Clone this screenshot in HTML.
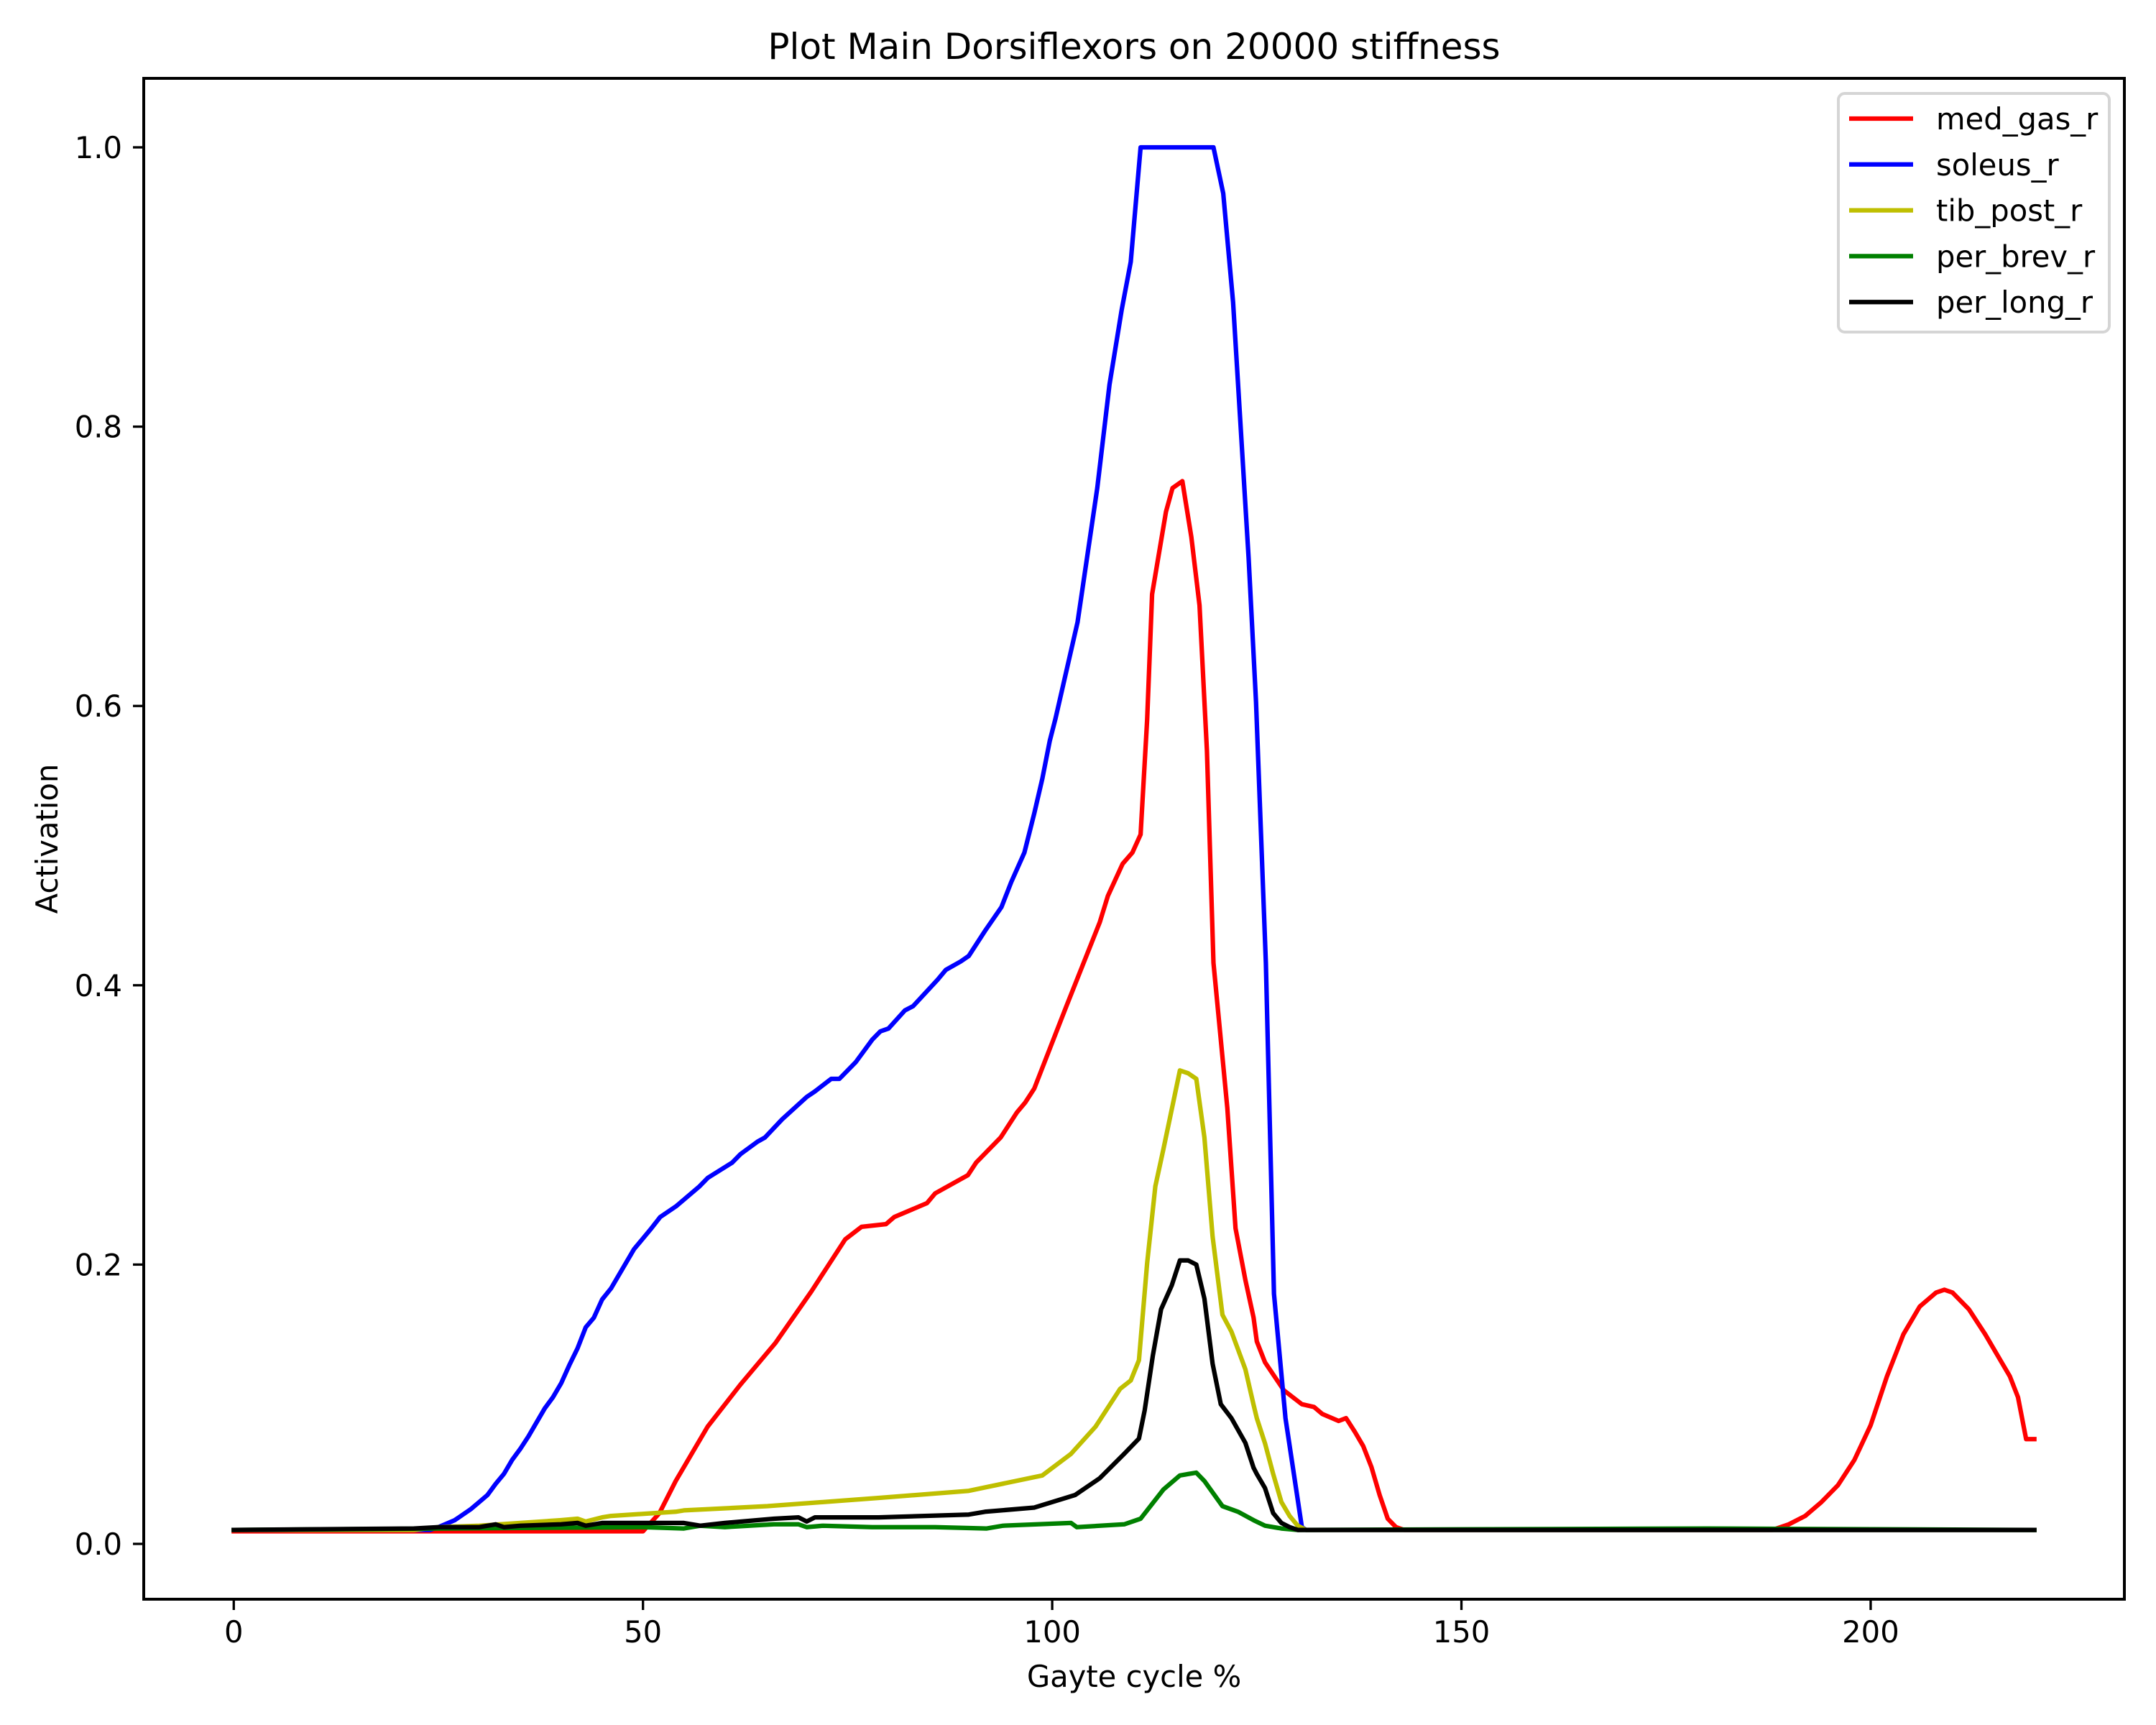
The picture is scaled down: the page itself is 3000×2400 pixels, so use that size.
<!DOCTYPE html>
<html><head><meta charset="utf-8"><style>
html,body{margin:0;padding:0;background:#fff;}
svg{display:block;font-family:"DejaVu Sans","Liberation Sans",sans-serif;}
</style></head><body>
<svg id="chart" width="3000" height="2400" viewBox="0 0 3000 2400" xmlns="http://www.w3.org/2000/svg">
<rect x="0" y="0" width="3000" height="2400" fill="#fff"/>
<text x="1578" y="82" font-size="50" text-anchor="middle">Plot Main Dorsiflexors on 20000 stiffness</text>
<text x="1578" y="2347" font-size="41.7" text-anchor="middle">Gayte cycle %</text>
<text transform="translate(80,1167) rotate(-90)" font-size="41.7" text-anchor="middle">Activation</text>
<g id="series"></g>
<g id="ticks"></g>
<rect x="200" y="109" width="2756" height="2116" fill="none" stroke="#000" stroke-width="4"/>
<g id="legend">
<rect x="2558" y="130" width="377" height="332" rx="9" fill="#fff" fill-opacity="0.8" stroke="#d5d5d5" stroke-width="4"/>
</g>
</svg>
<script>
const seriesNames = ["med_gas_r","soleus_r","tib_post_r","per_brev_r","per_long_r"];
const seriesColors = ["#ff0000","#0000ff","#bfbf00","#008000","#000000"];
const xTicks = [0,50,100,150,200];
const yTicks = [0.0,0.2,0.4,0.6,0.8,1.0];
const yTickLabels = ["0.0","0.2","0.4","0.6","0.8","1.0"];

const medGasX = [0,50,52,54,56,57.9,61.9,66.2,70.6,74.7,76.7,79.7,80.7,84.7,85.7,89.7,90.7,93.7,95.7,96.7,97.8,100.8,101.8,105.8,106.8,108.6,109.8,110.8,111.6,112.2,113.9,114.7,115.9,117,118,118.9,119.7,121.4,122.4,123.6,124.6,125,126,128.3,130.5,132,133,135,135.9,137,138,139,140,141,142,143,188,190,192,194,196,198,200,202,204,206,208,209,210,212,214,216,217,218,219,220];
const medGasY = [0.009,0.009,0.022,0.045,0.065,0.084,0.114,0.144,0.181,0.218,0.227,0.229,0.234,0.244,0.251,0.264,0.273,0.291,0.309,0.316,0.326,0.371,0.386,0.445,0.464,0.487,0.495,0.508,0.59,0.68,0.739,0.756,0.761,0.721,0.672,0.568,0.416,0.312,0.226,0.189,0.162,0.145,0.13,0.11,0.1,0.098,0.093,0.088,0.09,0.08,0.07,0.055,0.035,0.018,0.012,0.01,0.01,0.014,0.02,0.03,0.042,0.06,0.085,0.12,0.15,0.17,0.18,0.182,0.18,0.168,0.15,0.13,0.12,0.105,0.075,0.075];

const soleusX = [0,24,25,27,29,30,31,32,33,34,35,36,37,38,39,40,41,42,43,44,45,46.1,48.9,50.9,52.1,54.1,56.9,57.9,60.9,61.9,64,64.9,67,70,71,73,74,76,78,79,80,82,83,86,87,88.8,89.8,91.8,93.8,95,96.6,97.8,98.8,99.7,100.4,103.1,105.5,107,108.5,109.6,110.8,119.7,120.9,122.1,124,124.9,126.1,127.1,128.5,130.5,131,220];
const soleusY = [0.01,0.01,0.012,0.017,0.025,0.03,0.035,0.043,0.05,0.06,0.068,0.077,0.087,0.097,0.105,0.115,0.128,0.14,0.155,0.162,0.175,0.183,0.211,0.225,0.234,0.242,0.256,0.262,0.273,0.279,0.288,0.291,0.304,0.32,0.324,0.333,0.333,0.345,0.361,0.367,0.369,0.382,0.385,0.404,0.411,0.417,0.421,0.439,0.456,0.474,0.495,0.523,0.548,0.575,0.591,0.66,0.756,0.83,0.884,0.918,1.0,1.0,0.967,0.889,0.706,0.603,0.416,0.179,0.09,0.012,0.01,0.01];

const tibPostX = [0,22,25,30,35,40,42,43,45,46.1,54,55,65.2,79,89.8,98.8,102.3,105.3,108.3,109.6,110.6,111.6,112.6,113.6,115.6,116.6,117.6,118.6,119.6,120.8,121.9,123.6,124.6,125,126,127,128,129,130,131,220];
const tibPostY = [0.01,0.01,0.012,0.013,0.015,0.017,0.018,0.016,0.019,0.02,0.023,0.024,0.027,0.033,0.038,0.049,0.0645,0.084,0.111,0.117,0.1315,0.201,0.256,0.283,0.339,0.337,0.333,0.291,0.22,0.164,0.152,0.125,0.0996,0.09,0.072,0.05,0.03,0.02,0.013,0.01,0.01];

const perBrevX = [0,50,55,57,60,66,69,70,72,78,85.7,92,94,102.3,103,108.8,110.8,113.6,115.6,117.6,118.6,120.8,122.7,124.6,126,128,130,180,220];
const perBrevY = [0.01,0.012,0.011,0.013,0.012,0.014,0.014,0.012,0.013,0.012,0.012,0.011,0.013,0.015,0.012,0.014,0.018,0.039,0.049,0.051,0.045,0.027,0.023,0.017,0.013,0.011,0.01,0.011,0.01];

const perLongX = [0,22,25,30,32,33,35,40,42,43,45,46.1,55,57,60,66,69,70,71,78.8,89.8,91.8,97.8,102.8,105.8,108.8,110.6,111.3,112.3,113.3,114.6,115.6,116.6,117.6,118.6,119.6,120.6,121.9,123.6,124.6,125,126,127,128,129,130,220];
const perLongY = [0.01,0.011,0.012,0.012,0.014,0.012,0.013,0.014,0.015,0.013,0.015,0.015,0.015,0.013,0.015,0.018,0.019,0.016,0.019,0.019,0.021,0.023,0.026,0.035,0.047,0.0645,0.0754,0.0957,0.135,0.168,0.185,0.203,0.203,0.2,0.1756,0.129,0.1,0.09,0.0723,0.0545,0.05,0.04,0.022,0.015,0.012,0.01,0.01];

const seriesXs = [medGasX,soleusX,tibPostX,perBrevX,perLongX];
const seriesYs = [medGasY,soleusY,tibPostY,perBrevY,perLongY];

const NS="http://www.w3.org/2000/svg";
function xScale(v){return 200+(v+11)*2756/242;}
function yScale(v){return 2148-v*1943;}

const sg=document.getElementById('series');
seriesXs.forEach((xs,i)=>{
  const p=document.createElementNS(NS,'polyline');
  p.setAttribute('points',xs.map((x,j)=>xScale(x).toFixed(1)+','+yScale(seriesYs[i][j]).toFixed(1)).join(' '));
  p.setAttribute('fill','none');
  p.setAttribute('stroke',seriesColors[i]);
  p.setAttribute('stroke-width','6.25');
  p.setAttribute('stroke-linejoin','round');
  p.setAttribute('stroke-linecap','square');
  
  
  sg.appendChild(p);
});

const tg=document.getElementById('ticks');
xTicks.forEach(t=>{
  const x=xScale(t);
  const l=document.createElementNS(NS,'line');
  l.setAttribute('x1',x);l.setAttribute('x2',x);l.setAttribute('y1',2225);l.setAttribute('y2',2240);
  l.setAttribute('stroke','#000');l.setAttribute('stroke-width','3.3');
  
  
  tg.appendChild(l);
  const tx=document.createElementNS(NS,'text');
  tx.setAttribute('x',x);tx.setAttribute('y',2285);tx.setAttribute('font-size','41.7');tx.setAttribute('text-anchor','middle');
  tx.textContent=String(t);
  
  
  tg.appendChild(tx);
});
yTicks.forEach((t,i)=>{
  const y=yScale(t);
  const l=document.createElementNS(NS,'line');
  l.setAttribute('x1',185);l.setAttribute('x2',200);l.setAttribute('y1',y);l.setAttribute('y2',y);
  l.setAttribute('stroke','#000');l.setAttribute('stroke-width','3.3');
  
  
  tg.appendChild(l);
  const tx=document.createElementNS(NS,'text');
  tx.setAttribute('x',170);tx.setAttribute('y',y+15);tx.setAttribute('font-size','41.7');tx.setAttribute('text-anchor','end');
  tx.textContent=yTickLabels[i];
  
  
  tg.appendChild(tx);
});

const lg=document.getElementById('legend');
seriesNames.forEach((n,i)=>{
  const y=165+i*63.8;
  const l=document.createElementNS(NS,'line');
  l.setAttribute('x1',2573);l.setAttribute('x2',2662);l.setAttribute('y1',y);l.setAttribute('y2',y);
  l.setAttribute('stroke',seriesColors[i]);l.setAttribute('stroke-width','6.25');
  
  
  lg.appendChild(l);
  const tx=document.createElementNS(NS,'text');
  tx.setAttribute('x',2694);tx.setAttribute('y',y+15);tx.setAttribute('font-size','41.7');
  tx.textContent=n;
  
  
  lg.appendChild(tx);
});
</script>
</body></html>
